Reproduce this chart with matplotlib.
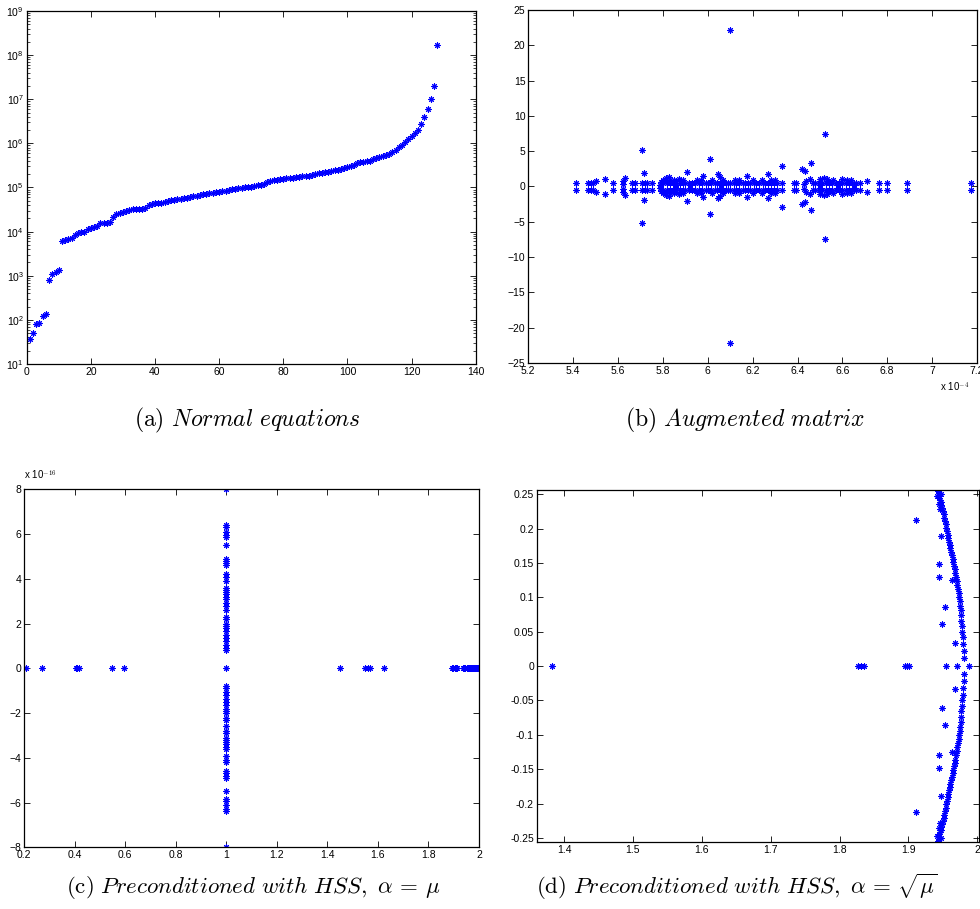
import numpy as np
import matplotlib
matplotlib.use("Agg")
from matplotlib import pyplot as plt
from matplotlib.ticker import FormatStrFormatter, LogLocator, NullFormatter

plt.rcParams['font.family'] = ['Liberation Sans', 'DejaVu Sans']
plt.rcParams['mathtext.fontset'] = 'cm'

# (a) eigenvalues of the normal equations, log10 of each, sorted
normal_idx = np.arange(1, 129)
normal_log = [1.57, 1.71, 1.91, 1.92, 2.09, 2.13, 2.91, 3.04, 3.08, 3.14,
              3.79, 3.81, 3.84, 3.86, 3.93, 3.96, 3.98, 3.99, 4.05, 4.09,
              4.10, 4.12, 4.19, 4.20, 4.20, 4.22, 4.33, 4.39, 4.43, 4.45,
              4.46, 4.48, 4.51, 4.52, 4.52, 4.52, 4.54, 4.60, 4.63, 4.64,
              4.65, 4.65, 4.67, 4.69, 4.71, 4.72, 4.73, 4.75, 4.76, 4.77,
              4.78, 4.80, 4.81, 4.83, 4.85, 4.86, 4.87, 4.88, 4.89, 4.90,
              4.91, 4.93, 4.94, 4.96, 4.97, 4.98, 4.99, 5.00, 5.01, 5.02,
              5.03, 5.05, 5.06, 5.08, 5.13, 5.15, 5.16, 5.17, 5.19, 5.20,
              5.21, 5.22, 5.22, 5.23, 5.24, 5.25, 5.26, 5.27, 5.28, 5.30,
              5.32, 5.33, 5.34, 5.35, 5.37, 5.39, 5.40, 5.42, 5.44, 5.46,
              5.48, 5.52, 5.56, 5.57, 5.57, 5.59, 5.61, 5.64, 5.67, 5.70,
              5.71, 5.73, 5.77, 5.80, 5.85, 5.92, 5.97, 6.02, 6.10, 6.17,
              6.24, 6.31, 6.44, 6.60, 6.78, 7.01, 7.29, 8.24]

# (b) augmented matrix eigenvalues (real part in units of 1e-4, imag >= 0;
# conjugates plotted too)
aug_re = [5.414, 5.466, 5.478, 5.489, 5.503, 5.54, 5.578, 5.620, 5.624, 5.632,
          5.66, 5.675, 5.708, 5.716, 5.705, 5.718, 5.730, 5.752,
          5.785, 5.79, 5.80, 5.812, 5.825,
          5.80, 5.82, 5.83, 5.845, 5.86, 5.875, 5.89, 5.90, 5.915, 5.93,
          5.945, 5.96, 5.975, 5.99, 6.00, 6.015, 6.03, 6.04, 6.055, 6.07,
          6.08, 6.09, 6.10, 6.115, 6.125, 6.14, 6.155, 6.165, 6.18, 6.19,
          6.205, 6.215, 6.23, 6.245, 6.255, 6.27, 6.28, 6.295, 6.31, 6.33,
          6.385, 6.395, 6.47, 6.48, 6.495, 6.51, 6.525, 6.54, 6.555, 6.57,
          6.585, 6.60, 6.615, 6.63, 6.645, 6.66, 6.68,
          5.83, 5.85, 5.87, 5.89, 5.95, 5.97, 6.02, 6.07, 6.12, 6.14,
          6.20, 6.24, 6.28, 6.30, 6.50, 6.53, 6.56, 6.60, 6.62, 6.64,
          5.86, 5.92, 6.06, 6.50, 6.58, 6.65,
          6.43, 6.44, 6.455, 6.52,
          5.909, 5.978, 6.010, 6.045, 6.055, 6.100, 6.174, 6.268, 6.330,
          6.42, 6.432, 6.46, 6.523,
          6.71, 6.764, 6.80, 6.89, 7.175]
aug_im = [0.5, 0.5, 0.5, 0.5, 0.75, 1.05, 0.5, 0.3, 0.75, 1.15,
          0.5, 0.5, 5.2, 1.9, 0.5, 0.5, 0.5, 0.5,
          0.2, 0.6, 0.95, 1.25, 1.4,
          0.5, 0.5, 0.5, 0.5, 0.5, 0.5, 0.5, 0.5, 0.5, 0.5,
          0.5, 0.5, 0.5, 0.5, 0.5, 0.5, 0.5, 0.5, 0.5, 0.5,
          0.5, 0.5, 0.5, 0.5, 0.5, 0.5, 0.5, 0.5, 0.5, 0.5,
          0.5, 0.5, 0.5, 0.5, 0.5, 0.5, 0.5, 0.5, 0.5, 0.5,
          0.5, 0.5, 0.5, 0.5, 0.5, 0.5, 0.5, 0.5, 0.5, 0.5,
          0.5, 0.5, 0.5, 0.5, 0.5, 0.5, 0.5,
          0.95, 0.9, 1.0, 0.9, 0.95, 0.9, 0.9, 0.95, 0.9, 0.9,
          0.95, 0.9, 0.9, 0.95, 1.0, 1.1, 0.9, 1.0, 0.95, 0.9,
          0.2, 0.25, 0.2, 0.2, 0.2, 0.25,
          0.3, 0.75, 1.1, 1.2,
          2.05, 1.45, 3.96, 1.7, 1.35, 22.2, 1.55, 1.7, 2.85,
          2.5, 2.2, 3.35, 7.5,
          0.75, 0.5, 0.5, 0.5, 0.5]

# (c) HSS preconditioned, alpha = mu: real eigenvalues and the cluster at 1
hss1_real = [0.207, 0.273, 0.405, 0.41, 0.419, 0.549, 0.594, 1.0,
             1.449, 1.55, 1.56, 1.569, 1.626,
             1.894, 1.899, 1.903, 1.907, 1.911, 1.935, 1.94, 1.946, 1.952,
             1.957, 1.962, 1.966, 1.97, 1.974, 1.978, 1.982, 1.985, 1.988,
             1.991, 1.994, 1.996, 1.998, 2.0]
hss1_im_at1 = [0.8, 0.9, 1.05, 1.2, 1.35, 1.5, 1.65, 1.8, 1.9, 2.0, 2.2, 2.3,
               2.6, 2.8, 2.9, 3.1, 3.2, 3.3, 3.4, 3.5, 3.6, 3.9, 4.1, 4.2,
               4.6, 4.7, 4.8, 4.9, 5.5, 5.85, 5.95, 6.1, 6.3, 6.4, 8.0]

# (d) HSS preconditioned, alpha = sqrt(mu)
hss2_real_axis = [1.383, 1.827, 1.831, 1.835, 1.895, 1.898, 1.901, 1.955,
                  1.970, 1.988]
hss2_arc_re = [1.980, 1.980, 1.979, 1.979, 1.978, 1.978, 1.977, 1.977, 1.976,
               1.975, 1.975, 1.974, 1.973, 1.972, 1.971, 1.970, 1.969, 1.968,
               1.967, 1.966, 1.965, 1.964, 1.963, 1.962, 1.961, 1.960, 1.959,
               1.958, 1.957, 1.956, 1.955, 1.954, 1.953, 1.952, 1.951, 1.950,
               1.949, 1.948, 1.947, 1.946, 1.945, 1.944, 1.944, 1.943, 1.943,
               1.942, 1.945, 1.946, 1.948]
hss2_arc_im = [0.012, 0.022, 0.032, 0.042, 0.050, 0.058, 0.066, 0.074, 0.082,
               0.088, 0.094, 0.100, 0.106, 0.112, 0.118, 0.124, 0.130, 0.136,
               0.141, 0.146, 0.151, 0.156, 0.161, 0.166, 0.171, 0.176, 0.181,
               0.186, 0.191, 0.196, 0.201, 0.206, 0.211, 0.216, 0.221, 0.226,
               0.230, 0.234, 0.238, 0.242, 0.245, 0.248, 0.251, 0.254, 0.256,
               0.247, 0.236, 0.229, 0.250]
hss2_out_re = [1.911, 1.947, 1.944, 1.945, 1.953, 1.949, 1.968, 1.963]
hss2_out_im = [0.212, 0.189, 0.148, 0.130, 0.086, 0.061, 0.033, 0.125]

mk = dict(linestyle='none', marker=(8, 2, 0), color='b', ms=4.5, mew=0.75)


def style(ax):
    ax.tick_params(direction='in', top=True, right=True, labelsize=7.5,
                   length=4, width=0.6, pad=2)
    ax.tick_params(which='minor', direction='in', top=True, right=True,
                   length=2, width=0.5)
    for s in ax.spines.values():
        s.set_linewidth(0.9)


fig = plt.figure(figsize=(9.8, 9.09), dpi=100)

# (a)
ax = fig.add_axes([0.0272, 0.5996, 0.4582, 0.3883])
ax.plot(normal_idx, 10.0 ** np.array(normal_log), **mk)
ax.set_yscale('log')
ax.set_xlim(0, 140)
ax.set_ylim(10, 1e9)
ax.set_xticks(np.arange(0, 141, 20))
ax.yaxis.set_major_locator(LogLocator(base=10, numticks=20))
ax.yaxis.set_minor_locator(LogLocator(base=10, subs=np.arange(2, 10), numticks=20))
ax.yaxis.set_minor_formatter(NullFormatter())
style(ax)

# (b)
ax = fig.add_axes([0.5391, 0.6007, 0.4578, 0.3883])
re_b = np.array(aug_re)
im_b = np.array(aug_im)
ax.plot(np.concatenate([re_b, re_b]), np.concatenate([im_b, -im_b]), **mk)
ax.set_xlim(5.2, 7.2)
ax.set_ylim(-25, 25)
ax.set_xticks(np.round(np.arange(5.2, 7.21, 0.2), 1))
ax.set_yticks(np.arange(-25, 26, 5))
ax.xaxis.set_major_formatter(FormatStrFormatter('%g'))
style(ax)
fig.text(0.974, 0.5735, r'x 10$^{-4}$', fontsize=7, ha='center', va='center')

# (c)
ax = fig.add_axes([0.0245, 0.0679, 0.4643, 0.3938])
r_c = np.array(hss1_real)
i_c = np.array(hss1_im_at1)
xs = np.concatenate([r_c, np.ones(len(i_c) * 2)])
ys = np.concatenate([np.zeros(len(r_c)), i_c, -i_c])
ax.plot(xs, ys, **mk)
ax.set_xlim(0.2, 2)
ax.set_ylim(-8, 8)
ax.set_xticks(np.round(np.arange(0.2, 2.01, 0.2), 1))
ax.set_yticks(np.arange(-8, 9, 2))
ax.xaxis.set_major_formatter(FormatStrFormatter('%g'))
style(ax)
fig.text(0.0245, 0.4695, r'x 10$^{-16}$', fontsize=7, ha='left', va='bottom')

# (d)
ax = fig.add_axes([0.5477, 0.0737, 0.4513, 0.3872])
are = np.array(hss2_arc_re + hss2_out_re)
aim = np.array(hss2_arc_im + hss2_out_im)
xs = np.concatenate([hss2_real_axis, are, are])
ys = np.concatenate([np.zeros(len(hss2_real_axis)), aim, -aim])
ax.plot(xs, ys, **mk)
ax.set_xlim(1.3604, 2.0025)
ax.set_ylim(-0.256, 0.256)
ax.set_xticks(np.round(np.arange(1.4, 2.01, 0.1), 1) + 0.0)
ax.set_yticks(np.round(np.arange(-0.25, 0.251, 0.05), 2) + 0.0)
ax.xaxis.set_major_formatter(FormatStrFormatter('%g'))
ax.yaxis.set_major_formatter(FormatStrFormatter('%g'))
style(ax)

# captions
cap = dict(fontsize=16.5, ha='center', va='center')
fig.text(0.252, 0.538, r'$\mathrm{(a)}\ \mathit{Normal\ equations}$', fontsize=17, ha='center', va='center')
fig.text(0.760, 0.538, r'$\mathrm{(b)}\ \mathit{Augmented\ matrix}$', fontsize=17, ha='center', va='center')
fig.text(0.258, 0.024, r'$\mathrm{(c)}\ \mathit{Preconditioned\ with\ HSS,}\ \alpha\,=\,\mu$', **cap)
fig.text(0.752, 0.024, r'$\mathrm{(d)}\ \mathit{Preconditioned\ with\ HSS,}\ \alpha\,=\,\sqrt{\mu}$', **cap)

fig.savefig('out.png', dpi=100)
